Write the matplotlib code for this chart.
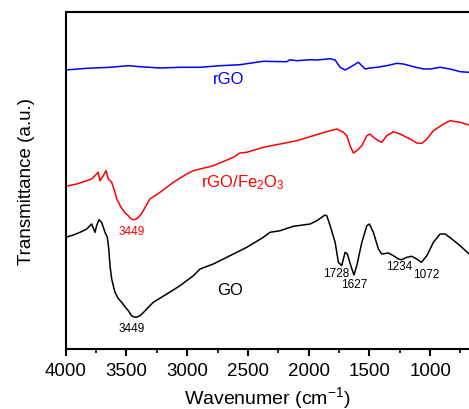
import matplotlib
matplotlib.use('Agg')
import matplotlib.pyplot as plt
from matplotlib.ticker import MultipleLocator

plt.rcParams['font.family'] = ['Liberation Sans', 'DejaVu Sans']
plt.rcParams['mathtext.fontset'] = 'custom'
plt.rcParams['mathtext.rm'] = 'Liberation Sans'
plt.rcParams['mathtext.it'] = 'Liberation Sans'

# GO 曲线 (波数, 透过率 a.u.)
go_wn = [4000, 3937, 3882, 3827, 3800, 3786, 3759, 3745, 3726, 3704, 3676, 3657,
         3645, 3635, 3621, 3605, 3594, 3570, 3539, 3510, 3484, 3465, 3449, 3420,
         3388, 3360, 3333, 3279, 3168, 3059, 2949,
         2894, 2785, 2674, 2565, 2509, 2373, 2318, 2235, 2126, 1988, 1933, 1865,
         1851, 1823, 1782, 1755, 1728, 1700, 1681, 1653, 1627, 1604, 1562, 1521,
         1500, 1467, 1426, 1398, 1343, 1302, 1261, 1234, 1192, 1151, 1110, 1072,
         1027, 973, 918, 876, 821, 753, 679]
go_t = [111.7, 114, 116.7, 120, 123.3, 125, 116.7, 123.3, 129.3, 126.7, 116.7, 111.7,
        100, 83.3, 70, 62, 56.7, 51, 46.7, 42, 38.3, 34.5, 32.5, 31.7,
        33.3, 36.5, 40, 46.7, 55, 63.3, 73.3,
        80, 85, 91.7, 98.3, 101.7, 111.7, 116.7, 118.3, 122.7, 125, 128.3, 134,
        133.3, 123.3, 106.7, 86.7, 83.3, 96.7, 95, 83.3, 74, 83.3, 106.7, 123.3,
        125, 116.7, 100, 95, 96, 93.3, 90, 89.3, 91.7, 92.7, 90, 86.7,
        93.3, 106.7, 115, 115, 110, 103.3, 95]

# rGO/Fe2O3 曲线
rf_wn = [4000, 3909, 3827, 3786, 3759, 3732, 3718, 3690, 3668, 3649, 3621, 3594,
         3580, 3545, 3510, 3484, 3465, 3449, 3425, 3402, 3380, 3361, 3335, 3306,
         3223, 3114, 3004, 2949, 2894,
         2785, 2620, 2565, 2509, 2373, 2235, 2098, 1961, 1823, 1768, 1714, 1686,
         1659, 1632, 1604, 1562, 1521, 1494, 1467, 1426, 1398, 1357, 1302, 1247,
         1165, 1110, 1068, 1027, 973, 890, 835, 753, 679]
rf_t = [162.7, 165, 168.3, 170, 173.3, 176.7, 168.3, 173.3, 178.3, 170, 166.7, 156.7,
        150, 142, 136, 133.3, 130.5, 129.5, 129.5, 131.7, 134.5, 138.3, 144, 150,
        156.7, 166.7, 175, 178.3, 180,
        183.3, 191.7, 196, 196.7, 201.7, 205, 208.3, 213.3, 218.3, 220, 216.7, 213.3,
        203.3, 196, 198.3, 203.3, 213.3, 215, 211.7, 208.3, 206.7, 213.3, 217.3, 215,
        210, 206, 205.7, 210, 218.3, 225, 228.3, 226.7, 224]

# rGO 曲线
rgo_wn = [4000, 3827, 3635, 3484, 3388, 3223, 3059, 2894, 2729, 2565, 2373, 2180,
          2153, 2098, 1988, 1933, 1823, 1782, 1741, 1700, 1659, 1618, 1590, 1562,
          1535, 1494, 1439, 1357, 1274, 1220, 1137, 1055, 1000, 918, 835, 753, 679]
rgo_t = [279, 280.7, 281.7, 283.3, 282.3, 281, 281.7, 281.7, 283.3, 284.3, 287.7, 287.3,
         289.3, 288.3, 289.3, 289, 290.3, 289, 281.7, 279, 281.7, 284.7, 286.7, 283.3,
         280, 281, 281.7, 283.3, 285.7, 285, 282.3, 280, 280, 281.7, 280, 277.3, 276.7]

fig = plt.figure(figsize=(4.69, 4.10), dpi=100)
ax = fig.add_axes([0.140, 0.1463, 0.860, 0.8220])

ax.plot(rgo_wn, rgo_t, color='#0000ff', lw=1.1)
ax.plot(rf_wn, rf_t, color='#ff0000', lw=1.1)
ax.plot(go_wn, go_t, color='black', lw=1.1)

# 标注
ax.text(2660, 271, 'rGO', color='#0000ff', fontsize=12, ha='center', va='center')
ax.text(2540, 167, 'rGO/Fe$_2$O$_3$', color='#ff0000', fontsize=12, ha='center', va='center')
ax.text(3453, 118, '3449', color='#ff0000', fontsize=8.5, ha='center', va='center')
ax.text(3453, 21, '3449', color='black', fontsize=8.5, ha='center', va='center')
ax.text(2650, 60, 'GO', color='black', fontsize=12, ha='center', va='center')
ax.text(1775, 76, '1728', color='black', fontsize=8.5, ha='center', va='center')
ax.text(1625, 65, '1627', color='black', fontsize=8.5, ha='center', va='center')
ax.text(1255, 83, '1234', color='black', fontsize=8.5, ha='center', va='center')
ax.text(1035, 75, '1072', color='black', fontsize=8.5, ha='center', va='center')

ax.set_xlim(4000, 680)
ax.set_ylim(0, 337)
ax.xaxis.set_major_locator(MultipleLocator(500))
ax.xaxis.set_minor_locator(MultipleLocator(250))
ax.set_yticks([])
ax.spines['right'].set_visible(False)
for s in ['left', 'bottom', 'top']:
    ax.spines[s].set_linewidth(1.5)
ax.tick_params(axis='x', which='major', direction='out', length=5, width=1.5,
               labelsize=13.5, pad=4)
ax.tick_params(axis='x', which='minor', direction='out', length=3, width=1.2)

ax.set_xlabel('Wavenumer (cm$^{-1}$)', fontsize=14, labelpad=4)
ax.set_ylabel('Transmittance (a.u.)', fontsize=13.5, labelpad=22)

plt.savefig('out.png', dpi=100)
